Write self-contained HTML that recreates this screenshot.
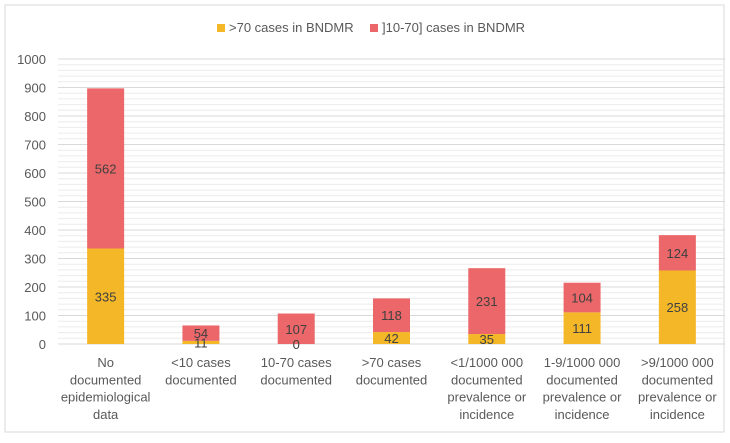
<!DOCTYPE html>
<html><head><meta charset="utf-8"><style>
body{margin:0;background:#fff;font-family:"Liberation Sans",sans-serif;}
svg text{font-family:"Liberation Sans",sans-serif;fill:#595959;}
</style></head><body>
<svg id="c" width="730" height="438" xmlns="http://www.w3.org/2000/svg">
<rect x="5" y="5" width="719" height="427" fill="#fff" stroke="#d9d9d9"/>
<g>
<rect x="217" y="24" width="8" height="8" fill="#F4B728"/>
<text x="229" y="32" font-size="13">&gt;70 cases in BNDMR</text>
<rect x="370" y="24" width="8" height="8" fill="#EC6769"/>
<text x="382" y="32" font-size="13">]10-70] cases in BNDMR</text>
</g>
<g id="grid"></g><g id="bars"></g><g id="labels"></g>
</svg>
<script>
const categories=[["No","documented","epidemiological","data"],["<10 cases","documented"],["10-70 cases","documented"],[">70 cases","documented"],["<1/1000 000","documented","prevalence or","incidence"],["1-9/1000 000","documented","prevalence or","incidence"],[">9/1000 000","documented","prevalence or","incidence"]];
const over70=[335,11,0,42,35,111,258];
const mid=[562,54,107,118,231,104,124];
const yTicks=[0,100,200,300,400,500,600,700,800,900,1000];
const NS="http://www.w3.org/2000/svg";
const x0=58,x1=725,y0=344,y1=59,yMax=1000;
const bw=(x1-x0)/categories.length;
const Y=v=>y0-(v/yMax)*(y0-y1);
const X=i=>x0+bw*(i+0.5);
function mk(t,a,p){const e=document.createElementNS(NS,t);for(const k in a)e.setAttribute(k,a[k]);p.appendChild(e);return e;}
const g=document.getElementById('grid'),b=document.getElementById('bars'),l=document.getElementById('labels');
for(let v=0;v<=yMax;v+=20){const ln=mk('line',{x1:x0,x2:x1,y1:Y(v),y2:Y(v),stroke:v%100===0?'#d9d9d9':'#ececec','stroke-width':1},g);

}
yTicks.forEach(v=>{const t=mk('text',{x:46,y:Y(v)+5,'font-size':13,'text-anchor':'end'},l);t.textContent=v;

});
categories.forEach((c,i)=>{
const cx=X(i),w=37;
const r1=mk('rect',{x:cx-w/2,y:Y(over70[i]),width:w,height:Y(0)-Y(over70[i]),fill:'#F4B728'},b);


const r2=mk('rect',{x:cx-w/2,y:Y(over70[i]+mid[i]),width:w,height:Y(over70[i])-Y(over70[i]+mid[i]),fill:'#EC6769'},b);


const t1=mk('text',{x:cx,y:(Y(0)+Y(over70[i]))/2+5,'font-size':13,'text-anchor':'middle',style:'fill:#404040'},l);t1.textContent=over70[i];


const t2=mk('text',{x:cx,y:(Y(over70[i])+Y(over70[i]+mid[i]))/2+5,'font-size':13,'text-anchor':'middle',style:'fill:#404040'},l);t2.textContent=mid[i];


c.forEach((s,j)=>{const t=mk('text',{x:cx,y:367+j*17.3,'font-size':13,'text-anchor':'middle'},l);t.textContent=s;

});
});
</script>
</body></html>
